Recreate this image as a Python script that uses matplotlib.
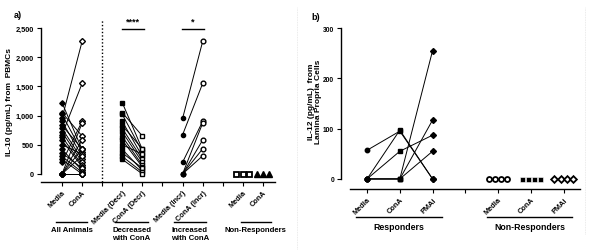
import numpy as np
import matplotlib
matplotlib.use("Agg")
import matplotlib.pyplot as plt
from matplotlib.transforms import blended_transform_factory

plt.rcParams['font.family'] = ['Liberation Sans', 'DejaVu Sans']
plt.rcParams['font.weight'] = 'bold'

# ---------------- Panel a data (IL-10, pg/mL) ----------------
decr_media = [1220, 1050, 1020, 900, 830, 780, 720, 640, 580, 500, 420, 360, 300, 250]
decr_cona = [420, 650, 380, 300, 430, 250, 200, 150, 120, 340, 60, 100, 30, 0]
incr_media = [950, 670, 200, 0, 0, 0, 0]
incr_cona = [2270, 1550, 900, 870, 580, 430, 310]
nonresp_media = [0, 0, 0]
nonresp_cona = [0, 0, 0]
all_media = decr_media + incr_media + nonresp_media
all_cona = decr_cona + incr_cona + nonresp_cona

a_ticklabels = ['Media', 'ConA', '', 'Media (Decr)', 'ConA (Decr)', '',
                'Media (Incr)', 'ConA (Incr)', '', 'Media', 'ConA']
a_groups = ['All Animals', 'Decreased\nwith ConA', 'Increased\nwith ConA', 'Non-Responders']
a_yticks = [0, 500, 1000, 1500, 2000, 2500]

# ---------------- Panel b data (IL-12, pg/mL) ----------------
resp_media = [57, 0, 0, 0, 0, 0]
resp_cona = [95, 97, 55, 0, 0, 0]
resp_pmai = [0, 0, 87, 255, 117, 55]
nr_media = [0, 0, 0, 0]
nr_cona = [0, 0, 0, 0]
nr_pmai = [0, 0, 0, 0]
b_ticklabels = ['Media', 'ConA', 'PMAi', '', 'Media', 'ConA', 'PMAi']
b_groups = ['Responders', 'Non-Responders']
b_yticks = [0, 100, 200, 300]

W, H = 600, 253
fig = plt.figure(figsize=(W / 100, H / 100), dpi=100)

def fx(px):
    return px / W

def fy(py):
    return 1 - py / H

tick_fs = 5.3
lw = 0.7

# ---------------- Panel a ----------------
axa = fig.add_axes([fx(41), fy(183), fx(275) - fx(41), fy(29) - fy(183)])
axa.set_xlim(-1.045, 10.6)
axa.set_ylim(-138, 2500)
for s in ['top', 'right']:
    axa.spines[s].set_visible(False)
axa.spines['left'].set_bounds(0, 2500)
axa.spines['left'].set_linewidth(1.0)
axa.spines['bottom'].set_linewidth(1.0)
axa.set_yticks(a_yticks)
axa.set_yticklabels([f"{v:,}" for v in a_yticks], fontsize=tick_fs, fontweight='bold')
axa.set_xticks(range(len(a_ticklabels)))
axa.set_xticklabels(a_ticklabels, rotation=45, ha='right', rotation_mode='anchor',
                    fontsize=tick_fs, fontweight='bold')
axa.tick_params(axis='both', direction='out', length=3, width=0.8, pad=2)

def pair_lines(ax, x0, x1, v0, v1, **kw):
    for a, b in zip(v0, v1):
        ax.plot([x0, x1], [a, b], color='black', lw=lw, zorder=2, **kw)

# All animals
pair_lines(axa, 0, 1, all_media, all_cona)
axa.plot(np.zeros(len(all_media)), all_media, 'D', ms=2.8, mfc='black', mec='black', zorder=3)
axa.plot(np.ones(len(all_cona)), all_cona, 'D', ms=3.0, mfc='white', mec='black', mew=1.0, zorder=3)
# Decreased
pair_lines(axa, 3, 4, decr_media, decr_cona)
axa.plot(np.full(len(decr_media), 3), decr_media, 's', ms=3.4, mfc='black', mec='black', zorder=3)
axa.plot(np.full(len(decr_cona), 4), decr_cona, 's', ms=3.4, mfc='white', mec='black', mew=1.0, zorder=3)
# Increased
pair_lines(axa, 6, 7, incr_media, incr_cona)
axa.plot(np.full(len(incr_media), 6), incr_media, 'o', ms=3.0, mfc='black', mec='black', zorder=3)
axa.plot(np.full(len(incr_cona), 7), incr_cona, 'o', ms=3.4, mfc='white', mec='black', mew=1.0, zorder=3)
# Non-responders (spread horizontally)
spread_a = 0.33
axa.plot(9 + np.linspace(-spread_a, spread_a, len(nonresp_media)), nonresp_media, 's', ms=3.6,
         mfc='white', mec='black', mew=1.3, zorder=3, clip_on=False)
axa.plot(10 + np.linspace(-spread_a * 0.9, spread_a * 0.9, len(nonresp_cona)), nonresp_cona, '^', ms=3.8,
         mfc='black', mec='black', zorder=3, clip_on=False)

# dotted separator
trans_a = blended_transform_factory(axa.transData, fig.transFigure)
axa.plot([2, 2], [fy(183), fy(20)], transform=trans_a, color='black', ls=(0, (1, 1.5)),
         lw=1.0, clip_on=False)

# significance
axa.plot([3, 4.1], [fy(30), fy(30)], transform=trans_a, color='black', lw=1.0, clip_on=False)
axa.text(3.55, fy(27), '****', transform=trans_a, ha='center', va='bottom', fontsize=6.5,
         fontweight='bold')
axa.plot([5.95, 7.05], [fy(30), fy(30)], transform=trans_a, color='black', lw=1.0, clip_on=False)
axa.text(6.5, fy(27), '*', transform=trans_a, ha='center', va='bottom', fontsize=6.5,
         fontweight='bold')

# group labels
a_spans = [(-0.3, 1.25), (2.65, 4.28), (5.57, 7.16), (8.9, 10.4)]
for (x0, x1), lab in zip(a_spans, a_groups):
    axa.plot([x0, x1], [fy(223), fy(223)], transform=trans_a, color='black', lw=1.0, clip_on=False)
    axa.text((x0 + x1) / 2, fy(227), lab, transform=trans_a, ha='center', va='top',
             fontsize=5.6, fontweight='bold', linespacing=1.1)

fig.text(fx(10), fy(102), 'IL-10 (pg/mL) from  PBMCs', rotation=90, ha='center', va='center',
         fontsize=6, fontweight='bold')
fig.text(fx(14), fy(16), 'a)', ha='left', va='center', fontsize=6.5, fontweight='bold')

# ---------------- Panel b ----------------
axb = fig.add_axes([fx(341), fy(190), fx(580) - fx(341), fy(29) - fy(190)])
axb.set_xlim(-0.795, 6.5)
axb.set_ylim(-20, 300)
for s in ['top', 'right']:
    axb.spines[s].set_visible(False)
axb.spines['left'].set_bounds(0, 300)
axb.spines['bottom'].set_bounds(-0.52, 6.5)
axb.spines['left'].set_linewidth(1.0)
axb.spines['bottom'].set_linewidth(1.0)
axb.set_yticks(b_yticks)
axb.set_yticklabels([str(v) for v in b_yticks], fontsize=4.8, fontweight='bold')
axb.set_xticks(range(len(b_ticklabels)))
axb.set_xticklabels(b_ticklabels, rotation=45, ha='right', rotation_mode='anchor',
                    fontsize=tick_fs, fontweight='bold')
axb.tick_params(axis='both', direction='out', length=3, width=0.8, pad=2)

for m, c, p in zip(resp_media, resp_cona, resp_pmai):
    axb.plot([0, 1, 2], [m, c, p], color='black', lw=lw, zorder=2)
axb.plot(np.zeros(len(resp_media)), resp_media, 'o', ms=3.2, mfc='black', mec='black', zorder=3)
axb.plot(np.ones(len(resp_cona)), resp_cona, 's', ms=3.4, mfc='black', mec='black', zorder=3)
axb.plot(np.full(len(resp_pmai), 2), resp_pmai, 'D', ms=3, mfc='black', mec='black', zorder=3)

spread_b = 0.28
axb.plot(4 + np.linspace(-spread_b, spread_b, len(nr_media)), nr_media, 'o', ms=3.6,
         mfc='white', mec='black', mew=1.3, zorder=3)
axb.plot(5 + np.linspace(-spread_b, spread_b, len(nr_cona)), nr_cona, 's', ms=3.6,
         mfc='black', mec='white', mew=0.4, zorder=3)
axb.plot(6 + np.linspace(-spread_b, spread_b, len(nr_pmai)), nr_pmai, 'D', ms=3.4,
         mfc='white', mec='black', mew=1.3, zorder=3)

trans_b = blended_transform_factory(axb.transData, fig.transFigure)
b_spans = [(-0.34, 2.29), (3.67, 6.27)]
for (x0, x1), lab in zip(b_spans, b_groups):
    axb.plot([x0, x1], [fy(218), fy(218)], transform=trans_b, color='black', lw=1.0, clip_on=False)
    axb.text((x0 + x1) / 2 + 0.0, fy(227), lab, transform=trans_b, ha='center', va='center',
             fontsize=6.3, fontweight='bold')

fig.text(fx(315), fy(102), 'IL-12 (pg/mL)  from\nLamina Propria Cells', rotation=90,
         ha='center', va='center', fontsize=6, fontweight='bold', linespacing=1.1)
fig.text(fx(311), fy(17), 'b)', ha='left', va='center', fontsize=6.5, fontweight='bold')

# faint frame separators
fig.add_artist(plt.Line2D([fx(297), fx(297)], [fy(250), fy(8)], color='#e4e4e4', lw=0.6,
                          ls=(0, (1, 1))))
fig.add_artist(plt.Line2D([fx(585), fx(585)], [fy(235), fy(8)], color='#e4e4e4', lw=0.6,
                          ls=(0, (1, 1))))

fig.savefig('out.png', dpi=100)
